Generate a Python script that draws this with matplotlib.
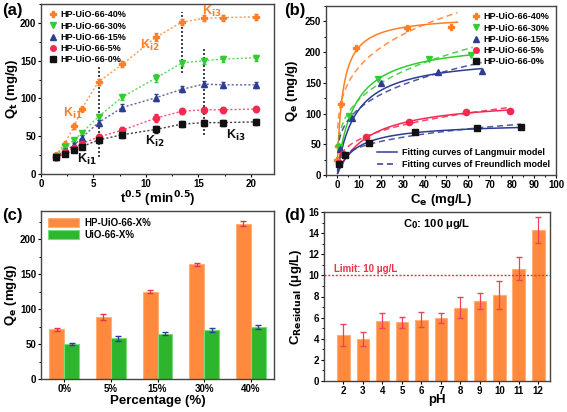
import numpy as np
import matplotlib
matplotlib.use("Agg")
import matplotlib.pyplot as plt
from matplotlib.ticker import MultipleLocator
from matplotlib.lines import Line2D

plt.rcParams['font.family'] = ['Liberation Sans', 'DejaVu Sans']
plt.rcParams['font.weight'] = 'bold'
plt.rcParams['axes.labelweight'] = 'bold'
plt.rcParams['mathtext.default'] = 'bf'
plt.rcParams['axes.linewidth'] = 1.0
plt.rcParams['axes.edgecolor'] = '#444444'

# ---------------- data ----------------
series_names = ["HP-UiO-66-40%", "HP-UiO-66-30%", "HP-UiO-66-15%", "HP-UiO-66-5%", "HP-UiO-66-0%"]
colors = ['#FF7F27', '#33CC33', '#2E3D92', '#F52850', '#111111']
markers = ['P', 'v', '^', 'o', 's']

# (a) kinetics
t_sqrt = [1.41, 2.24, 3.16, 3.87, 5.48, 7.75, 10.95, 13.42, 15.49, 17.32, 20.49]
qt_40 = [25, 40, 63, 86, 122, 145, 181, 201, 206, 207, 208]
qt_30 = [24, 36, 45, 54, 76, 102, 127, 147, 150, 152, 154]
qt_15 = [23, 31, 38, 48, 68, 88, 101, 112, 119, 118, 118]
qt_5 = [22, 29, 34, 40, 49, 58, 74, 83, 85, 85, 86]
qt_0 = [22, 27, 32, 36, 45, 52, 59, 66, 68, 68, 69]
qt_err = [3, 3, 3, 3, 4, 4, 5, 4, 4, 4, 4]

# (b) isotherms
ce_40 = [0.2, 0.6, 1.7, 8.9, 32, 52]
qe_40 = [24, 48, 116, 206, 240, 241]
ce_30 = [1.0, 5.6, 18.7, 42, 61]
qe_30 = [45, 96, 156, 188, 195]
ce_15 = [1.2, 6.7, 20.3, 46, 66]
qe_15 = [42, 92, 149, 168, 169]
ce_5 = [1.0, 2.9, 13.1, 32.8, 59, 79]
qe_5 = [20, 34, 62, 86, 103, 104]
ce_0 = [1.0, 3.9, 14.7, 35.8, 64, 84]
qe_0 = [18, 32, 52, 70, 77, 78]
# fitted model parameters
lang_qm = [260, 220, 195, 125, 85]
lang_k = [0.40, 0.13, 0.12, 0.07, 0.12]
freu_kf = [101, 63, 56.6, 27.9, 23]
freu_n_inv = [0.24, 0.289, 0.28, 0.314, 0.289]
curve_end = [55, 62, 66, 79, 84]

# (c) bars
pct_labels = ['0%', '5%', '15%', '30%', '40%']
hp_qe = [71, 89, 125, 164, 222]
hp_err = [2, 4, 2, 2, 4]
uio_qe = [50, 58, 65, 70, 74]
uio_err = [2, 3, 2, 3, 3]

# (d) pH
ph = [2, 3, 4, 5, 6, 7, 8, 9, 10, 11, 12]
c_res = [4.35, 3.95, 5.7, 5.55, 5.8, 5.95, 6.95, 7.55, 8.15, 10.65, 14.3]
c_err = [1.05, 0.65, 0.7, 0.5, 0.7, 0.45, 1.0, 0.75, 1.3, 1.05, 1.2]
limit = 10

fig = plt.figure(figsize=(5.67, 4.12), dpi=100)
W, H = 567, 412
def add_ax(l, r, t, b):
    return fig.add_axes([l / W, 1 - b / H, (r - l) / W, (b - t) / H])

axA = add_ax(41, 274, 4, 174)
axB = add_ax(326, 556, 6, 175)
axC = add_ax(41, 274, 211, 379)
axD = add_ax(324, 550, 212, 381)

tick_fs = 7
lab_fs = 9.5
for ax in (axA, axB, axC, axD):
    ax.tick_params(axis='both', which='both', direction='out', labelsize=tick_fs, top=False, right=False, pad=1.0)
    ax.tick_params(which='major', length=2.5, width=0.8)
    ax.tick_params(which='minor', length=1.5, width=0.7)

def labels(ax, xl, yl, xy, yx):
    ax.set_xlabel(xl, fontsize=lab_fs)
    ax.set_ylabel(yl, fontsize=lab_fs)
    ax.xaxis.set_label_coords(0.5, xy)
    ax.yaxis.set_label_coords(yx, 0.5)
    ax.xaxis.label.set_va('center')
    ax.yaxis.label.set_va('center')

def proxies():
    return [Line2D([0], [0], marker=m, color=c, ls='none', ms=4) for m, c in zip(markers, colors)]

# ---------- (a) ----------
qts = [qt_40, qt_30, qt_15, qt_5, qt_0]
for name, q, c, m in zip(series_names, qts, colors, markers):
    axA.plot(t_sqrt, q, linestyle=(0, (1.5, 1.5)), color=c, lw=1.0, alpha=0.8)
    axA.errorbar(t_sqrt, q, yerr=qt_err, fmt=m, color=c, ms=4.5, capsize=1.5, elinewidth=0.8, linestyle='none')
axA.plot([5.48, 5.48], [23, 142], color='#222222', ls=(0, (1.2, 1.2)), lw=1.2)
axA.plot([13.42, 13.42], [134, 215], color='#222222', ls=(0, (1.2, 1.2)), lw=1.2)
axA.plot([15.49, 15.49], [52, 167], color='#222222', ls=(0, (1.2, 1.2)), lw=1.2)
axA.text(2.1, 76, r'K$_{i1}$', color=colors[0], fontsize=9, fontweight='bold')
axA.text(9.4, 166, r'K$_{i2}$', color=colors[0], fontsize=9, fontweight='bold')
axA.text(15.3, 210, r'K$_{i3}$', color=colors[0], fontsize=9, fontweight='bold')
axA.text(3.4, 15, r'K$_{i1}$', color='#111111', fontsize=9, fontweight='bold')
axA.text(9.9, 38, r'K$_{i2}$', color='#111111', fontsize=9, fontweight='bold')
axA.text(17.6, 46, r'K$_{i3}$', color='#111111', fontsize=9, fontweight='bold')
axA.set_xlim(0, 22.2)
axA.set_ylim(0, 225)
axA.xaxis.set_major_locator(MultipleLocator(5))
axA.xaxis.set_minor_locator(MultipleLocator(2.5))
axA.yaxis.set_major_locator(MultipleLocator(50))
axA.yaxis.set_minor_locator(MultipleLocator(25))
labels(axA, r't$^{0.5}$ (min$^{0.5}$)', r'Q$_t$ (mg/g)', -0.15, -0.125)
axA.legend(proxies(), series_names, loc='upper left', frameon=False, handletextpad=0.3, labelspacing=0.25,
           handlelength=1.2, borderaxespad=0.3, prop={'weight': 'bold', 'size': 6.5})

# ---------- (b) ----------
ces = [ce_40, ce_30, ce_15, ce_5, ce_0]
qes = [qe_40, qe_30, qe_15, qe_5, qe_0]
for i in range(5):
    cc = np.linspace(0.3, curve_end[i], 300)
    lang = lang_qm[i] * lang_k[i] * cc / (1 + lang_k[i] * cc)
    fr = freu_kf[i] * cc ** freu_n_inv[i]
    col = colors[i] if i != 4 else colors[2]
    axB.plot(cc, lang, color=col, lw=1.1)
    axB.plot(cc, fr, color=col, lw=1.1, ls=(0, (4, 2.5)), alpha=0.85)
for i in range(5):
    axB.plot(ces[i], qes[i], marker=markers[i], color=colors[i], ls='none', ms=4.5)
leg1 = axB.legend(proxies(), series_names, loc='upper right', frameon=False, handletextpad=0.3, labelspacing=0.25,
                  handlelength=1.2, borderaxespad=0.3, prop={'weight': 'bold', 'size': 6.5})
axB.add_artist(leg1)
fit_handles = [Line2D([0], [0], color=colors[2], lw=1.1),
               Line2D([0], [0], color=colors[2], lw=1.1, ls=(0, (4, 2.5)))]
axB.legend(fit_handles, ['Fitting curves of Langmuir model', 'Fitting curves of Freundlich model'],
           loc='lower right', frameon=False, handlelength=2.2, handletextpad=0.5, labelspacing=0.3,
           borderaxespad=0.3, prop={'weight': 'bold', 'size': 6.5})
axB.set_xlim(-5, 100)
axB.set_ylim(0, 275)
axB.xaxis.set_major_locator(MultipleLocator(10))
axB.xaxis.set_minor_locator(MultipleLocator(5))
axB.yaxis.set_major_locator(MultipleLocator(50))
axB.yaxis.set_minor_locator(MultipleLocator(25))
labels(axB, r'C$_e$ (mg/L)', r'Q$_e$ (mg/g)', -0.15, -0.15)

# ---------- (c) ----------
x = np.arange(len(pct_labels))
bw = 0.32
axC.bar(x - bw / 2, hp_qe, bw, color='#FF8A3D', edgecolor='#FFB07A', lw=0.8, label='HP-UiO-66-X%')
axC.bar(x + bw / 2, uio_qe, bw, color='#2DB52D', edgecolor='#77DD77', lw=0.8, label='UiO-66-X%')
axC.errorbar(x - bw / 2, hp_qe, yerr=hp_err, fmt='none', ecolor='#E8334A', capsize=2, elinewidth=0.9)
axC.errorbar(x + bw / 2, uio_qe, yerr=uio_err, fmt='none', ecolor='#2E3D92', capsize=2, elinewidth=0.9)
axC.set_xlim(-0.5, 4.5)
axC.set_ylim(0, 240)
axC.set_xticks(x)
axC.set_xticklabels(pct_labels)
axC.yaxis.set_major_locator(MultipleLocator(50))
axC.yaxis.set_minor_locator(MultipleLocator(25))
labels(axC, 'Percentage (%)', r'Q$_e$ (mg/g)', -0.13, -0.13)
axC.legend(loc='upper left', frameon=False, handlelength=3.2, handleheight=1.1, handletextpad=0.6,
           labelspacing=0.2, borderaxespad=0.3, prop={'weight': 'bold', 'size': 7})

# ---------- (d) ----------
axD.bar(ph, c_res, 0.65, color='#FF8A3D', edgecolor='#FFB07A', lw=0.8)
axD.errorbar(ph, c_res, yerr=c_err, fmt='none', ecolor='#F0405A', capsize=2, elinewidth=0.9)
axD.axhline(limit, color='#E8334A', ls=(0, (1.5, 1.2)), lw=1.0)
axD.text(1.5, limit + 0.35, 'Limit: 10 μg/L', color='#E8334A', fontsize=7, fontweight='bold')
axD.text(0.5, 0.97, r'C$_0$: 100 μg/L', transform=axD.transAxes, ha='center', va='top', fontsize=8, fontweight='bold')
axD.set_xlim(1, 12.6)
axD.set_ylim(0, 16)
axD.set_xticks(ph)
axD.yaxis.set_major_locator(MultipleLocator(2))
axD.yaxis.set_minor_locator(MultipleLocator(1))
labels(axD, 'pH', r'C$_{Residual}$ (μg/L)', -0.115, -0.125)

for ax in (axA, axB, axC, axD):
    for lab in ax.get_xticklabels() + ax.get_yticklabels():
        lab.set_fontweight('bold')

fig.text(2 / W, 1 - 3 / H, '(a)', fontsize=12, fontweight='bold', va='top')
fig.text(284 / W, 1 - 3 / H, '(b)', fontsize=12, fontweight='bold', va='top')
fig.text(2 / W, 1 - 208 / H, '(c)', fontsize=12, fontweight='bold', va='top')
fig.text(284 / W, 1 - 208 / H, '(d)', fontsize=12, fontweight='bold', va='top')

fig.savefig('out.png', dpi=100)
